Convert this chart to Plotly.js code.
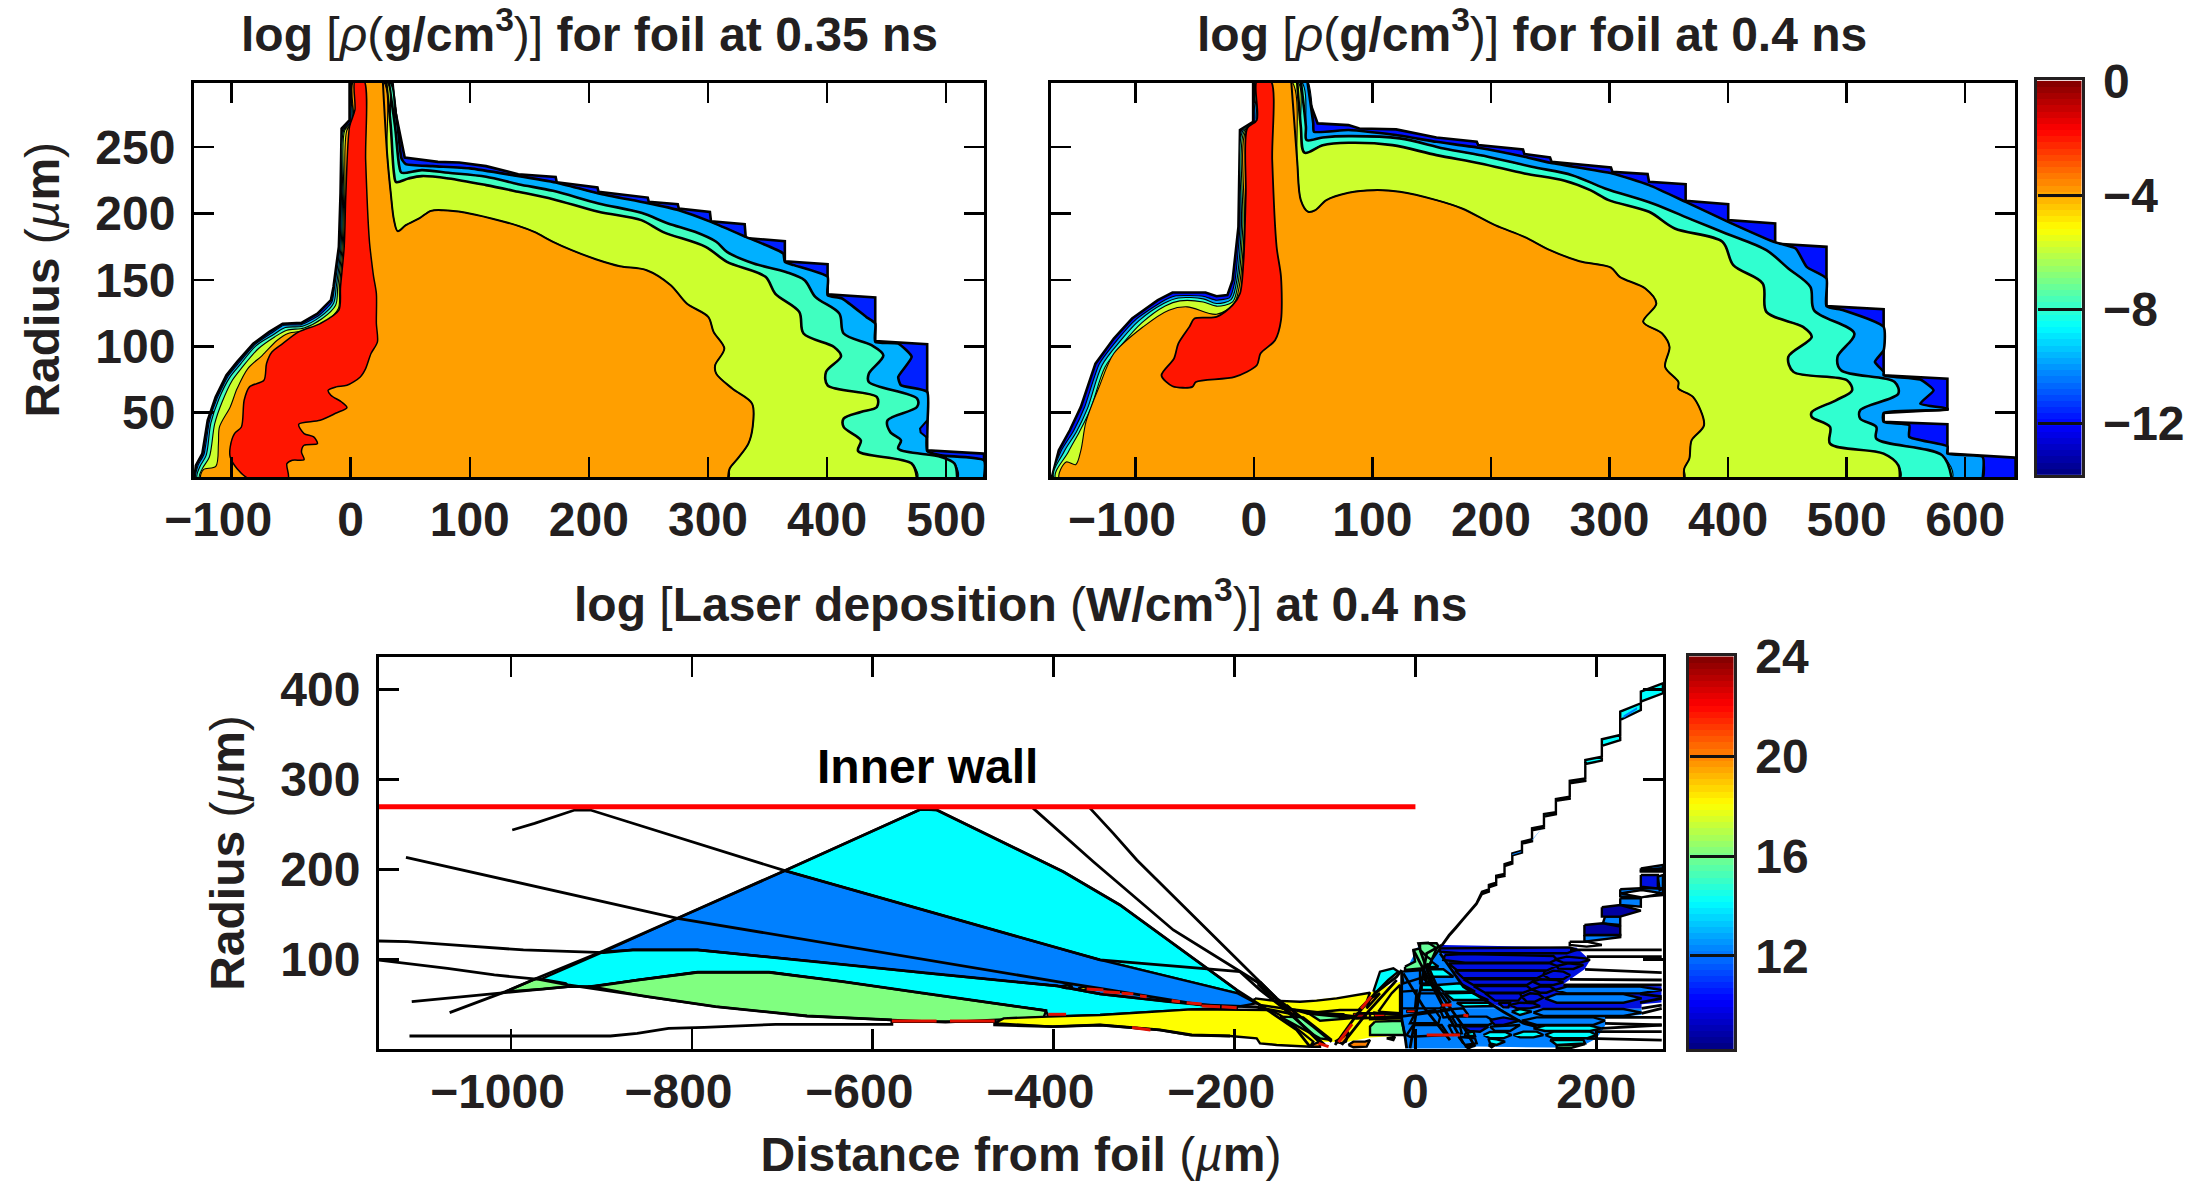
<!DOCTYPE html>
<html><head><meta charset="utf-8">
<script src="https://cdn.plot.ly/plotly-3.0.0.min.js"></script>
<style>html,body{margin:0;padding:0;background:#fff}#g{width:2192px;height:1181px}</style>
</head><body><div id="g"></div>
<script>
// ---------- Tick labels ----------
const foil35XTicks=[-100,0,100,200,300,400,500];
const foil40XTicks=[-100,0,100,200,300,400,500,600];
const foilYTicks=[50,100,150,200,250];
const laserXTicks=[-1000,-800,-600,-400,-200,0,200];
const laserYTicks=[100,200,300,400];
const densityBarTicks=[0,-4,-8,-12];
const laserBarTicks=[12,16,20,24];
const innerWallRadius=269.6;

// ---------- log density at 0.35 ns: contour outlines (um, um) ----------
const d35Blue=[[-131.2,0],[-129.9,10.3],[-124.5,19.1],[-120,44.2],[-113.3,61.8],[-104.3,78.1],[-95.3,88.2],[-81.8,102],[-68.3,110.8],[-57.1,117],[-41.3,117.6],[-27.9,124.6],[-16.6,134.7],[-14.4,144.7],[-9.9,174.9],[-8.5,215],[-7.6,264],[-0.9,270.3],[-0.9,300],[35,300],[37.3,277.9],[41.8,257.8],[45.4,242.2],[73.3,238.9],[91.2,238.4],[113.7,235.7],[140.7,229.6],[172.1,227.6],[173,223.6],[207.2,219.6],[208.1,216.3],[249.4,212],[250.3,208.8],[274.6,207],[275.5,203.8],[301.6,201.2],[302.5,194.2],[330.8,191.9],[331.7,181.6],[364.5,179.1],[364.5,164],[400.4,161.8],[400.4,139.2],[440.4,136.7],[440.4,104],[484,101.5],[484,21.6],[531.7,19.1],[531.7,0]];
const d35Sky=[[-129.9,0],[-128.1,10.3],[-123.1,18.6],[-118.6,43.5],[-111.9,61.3],[-102.9,77.4],[-93.9,87.4],[-80.4,101.3],[-67,109.6],[-56.2,115.8],[-41.3,116.3],[-26.5,123.4],[-15.7,133.4],[-13.5,144.7],[-9,174.9],[-7.6,215.1],[-6.7,262.9],[0,269.1],[0.9,300],[33.7,300],[39.5,265.4],[42.7,241.5],[46.3,237.2],[68.8,235.7],[100.2,234],[136.2,228.9],[172.1,223.4],[208.1,215.1],[248.5,208],[275.5,202.5],[302.5,193.7],[331.7,182.4],[363.1,169.9],[364.5,163.6],[372.1,161.1],[400.4,152.3],[400.4,138.5],[412.5,136],[432.8,122.1],[440.4,117.1],[440.4,103.3],[459.7,102],[471,92],[459.7,76.9],[462,70.6],[484,65.6],[484,21.1],[495.7,17.8],[531.7,14.1],[531.7,0]];
const d35BlueSpot=[[484,44.2],[478,38],[478.5,35],[484,31]];
const d35Aqua=[[-128.5,0],[-126.7,9],[-121.3,17.8],[-117.3,42.2],[-110.6,60.3],[-101.6,76.4],[-92.6,86.4],[-79.5,100.3],[-65.6,108.3],[-54.8,114.1],[-40.4,115.1],[-25.6,122.1],[-14.4,132.2],[-12.1,144.7],[-8.1,174.9],[-6.7,215.1],[-5.8,262.9],[0.9,269.1],[1.8,300],[31.9,300],[37.3,265.4],[40.9,235.2],[42.7,230.7],[59.8,232.7],[82.2,230.7],[113.7,227.7],[140.7,222.1],[169.9,217.1],[208.1,207.6],[244,200.5],[266.5,192.5],[289,186.2],[306.9,178.7],[315.9,171.1],[338.4,162.3],[365.4,156],[381.1,149.8],[390.1,137.2],[410.3,124.6],[413.9,109.6],[437.3,100.8],[447.2,93.2],[435,79.4],[435,73.1],[475.5,60.6],[475.5,54.3],[450.7,44.2],[453,35.4],[462,29.1],[459.7,22.9],[495.7,16.6],[506.9,11.6],[509.2,0]];
const d35Lime=[[-126.7,0],[-124.5,7.8],[-118.6,16.6],[-114.1,41.7],[-107.9,58],[-99.3,74.4],[-90.8,84.4],[-77.3,98.3],[-63.8,107],[-53.5,112.1],[-39.1,113.8],[-23.8,120.9],[-12.6,130.9],[-10.8,144.7],[-7.2,174.9],[-5.8,215.1],[-4.9,262.9],[1.8,269.1],[2.2,300],[29.7,300],[33.7,265.4],[36.4,230.2],[38.2,223.7],[48.5,226.4],[59.8,228.2],[82.2,226.4],[113.7,221.4],[140.7,216.4],[169.9,210.8],[208.1,201.3],[244,195],[262,186.2],[298,174.9],[315.9,163.6],[348.3,152.3],[356.4,139.7],[376.6,125.9],[380.2,109.6],[405.8,99.5],[411.7,92.5],[399.1,80.7],[400.4,70.6],[441.8,61.8],[441.8,54.3],[428.3,50.5],[413.9,45.5],[413.9,39.2],[428.3,29.1],[426,21.1],[471,11.6],[475.5,0]];
const d35Orange=[[-125.4,0],[-123.6,7],[-113.2,9.5],[-111,26.6],[-110.1,39.2],[-101.1,54.3],[-95.3,68.1],[-86.3,83.2],[-74.1,93.2],[-61.6,104.5],[-52.6,109.6],[-36.9,112.1],[-21.1,118.4],[-10.3,128.4],[-9.4,144.7],[-6.3,174.9],[-4.9,215.1],[-3.1,262.9],[2.2,269.1],[2.7,300],[27,300],[30.6,245.3],[33.7,215.1],[36.4,195],[39.5,186.7],[46.3,191.2],[57.5,196.3],[67.4,202],[77.7,202.5],[95.7,200.8],[118.2,196.3],[140.7,190.7],[154.1,186.2],[169.9,178.7],[185.6,172.4],[205.8,165.6],[226,160.3],[248.5,157.3],[268.7,146],[282.2,132.2],[300.2,122.1],[304.7,110.8],[313.7,98.3],[306,85.7],[306.9,79.4],[320.4,68.1],[337,56.8],[337.5,39.2],[333.9,26.6],[324.9,15.3],[318.2,7.8],[316.8,0]];
const d35Red=[[3.6,300],[3.6,278],[-0.9,265.4],[-4,215.1],[-5.4,174.9],[-8.5,144.7],[-9.9,127.2],[-25.6,117.1],[-43.6,110.8],[-57.1,102],[-66.1,95.7],[-70.6,87],[-72.8,74.4],[-84.9,69.4],[-89.4,59.3],[-91.7,39.2],[-97.5,34.2],[-101.1,24.1],[-101.1,16.6],[-95.3,7.8],[-84.9,0],[-52.6,0],[-53.5,11.6],[-49,14.1],[-39.1,14.6],[-41.3,20.3],[-39.1,25.4],[-27.9,26.6],[-31,31.7],[-39.1,34.2],[-43.6,41.2],[-25.6,44.2],[-12.1,49.7],[-3.1,53.8],[-7.6,58],[-16.6,63.1],[-18.9,66.8],[-12.1,69.4],[-3.1,70.6],[8.1,76.9],[12.6,83.2],[17.1,94.5],[22.5,103.3],[21.6,117.1],[21.6,139.7],[19.3,152.3],[17.5,164.8],[15.7,179.9],[12.6,240.2],[11.2,300]];

// ---------- log density at 0.4 ns: contour outlines ----------
const d40Blue=[[-170.7,0],[-164.5,21.6],[-155.2,36.7],[-145.9,54.3],[-133.6,86.9],[-118.1,105.8],[-102.7,120.9],[-81,134.7],[-68.6,140.5],[-40.8,140.5],[-31.5,137.7],[-22.3,138.5],[-17.9,149.8],[-13,190],[-11.7,262.9],[-0.6,269.1],[-0.6,300],[42.7,300],[47.6,283],[53.8,267.9],[79.8,266.6],[89,264.1],[120,263.4],[154,257.3],[188,254],[189.2,251.6],[227,248.3],[228.2,244.8],[249.8,242.3],[251.1,239],[301.2,234.7],[302.4,231.5],[332.1,229.7],[333.3,223.9],[364.2,222.1],[364.2,209.6],[400.1,207],[400.1,195],[439.7,192.5],[439.7,177.4],[483,174.9],[483,130.2],[531.2,127.9],[531.2,78.1],[585,75.6],[585,52.3],[531.2,49.8],[531.2,43],[585,41.2],[585,19.1],[642.5,16.1],[642.5,0]];
const d40Sky=[[-169.4,0],[-162.6,21.1],[-152.1,36.2],[-142.9,53.8],[-130.5,86.4],[-115,105],[-99.6,120.1],[-77.9,133.4],[-65.6,138],[-42.7,137.7],[-31.5,134.7],[-20.4,136.7],[-16.1,148.5],[-11.7,190],[-10.5,262.3],[0.6,269.1],[0.6,300],[45.1,300],[50.1,267.9],[50.7,261.6],[79.8,262.9],[120,259.1],[154,254],[188,249.8],[228.2,242.8],[249.8,238.2],[302.4,230.2],[333.3,221.4],[364.2,208.8],[400.1,193.7],[438.4,178.7],[457,173.6],[466.3,159.8],[483,151],[483,130.2],[497.2,127.2],[531.2,114.6],[531.2,97],[523.8,88.2],[531.2,80.7],[531.2,78.1],[562.1,74.9],[573.3,66.8],[562.1,56.8],[585,53],[585,52.3],[531.2,49.8],[531.2,43],[552.8,40.5],[552.8,31.7],[585,24.6],[585,19.1],[614.7,16.6],[614.7,0]];
const d40Aqua=[[-168.2,0],[-160.2,20.3],[-149.7,35.4],[-140.4,53],[-128,85.7],[-112.6,104],[-97.1,119.1],[-76.1,132.2],[-63.7,136.4],[-42.7,135.7],[-31.5,132.2],[-19.2,135.2],[-14.8,147.3],[-10.5,190],[-9.3,262.3],[1.9,269.1],[1.9,300],[39.6,300],[43.9,265.4],[44.5,255.3],[58.1,257.3],[79.8,258.3],[123.1,256.6],[160.2,249],[197.3,242.8],[234.4,235.2],[268.4,228.9],[296.2,218.9],[336.4,207.6],[370.4,195],[398.2,185],[432.3,172.4],[450.8,158.6],[469.4,144.7],[472.5,127.2],[506.5,109.6],[492.3,92],[495.3,81.9],[540.5,73.1],[543.6,64.3],[511.4,51.8],[511.4,45.5],[525,39.2],[525,30.4],[580.7,17.8],[588.7,0]];
const d40Lime=[[-167,0],[-156.5,20.3],[-147.2,35.4],[-137.9,52.3],[-125.5,84.4],[-110.1,102.5],[-94.6,117.6],[-74.8,130.4],[-62.5,134.2],[-42.7,133.4],[-31.5,130.2],[-17.9,133.4],[-13.6,146],[-9.3,190],[-8,262.3],[3.1,269.1],[3.1,300],[36.5,300],[39.6,265.4],[42.7,245.8],[58.1,251.5],[79.8,253.3],[116.9,251.5],[154,244],[191.1,237.7],[228.2,230.2],[262.2,224.7],[283.8,217.6],[299.3,210.1],[333.3,201.3],[355,188.7],[395.2,178.7],[404.4,161.1],[429.2,147.3],[432.3,125.9],[463.2,114.6],[470.6,107],[450.8,92],[455.1,80.7],[500.3,74.4],[504.6,66.8],[491,59.3],[470.6,50.5],[470.6,46.7],[486,39.2],[486,26.6],[531.2,19.1],[543.6,10.3],[544.8,0]];
const d40Orange=[[-163.9,0],[-158.3,12.8],[-150.3,10.8],[-145.9,21.6],[-141.6,43],[-130.5,69.4],[-118.1,94.5],[-93.4,114.6],[-71.7,127.2],[-56.3,129.7],[-31.5,124.1],[-16.7,132.2],[-12.4,144.7],[-8,190],[-6.8,262.3],[4.3,269.1],[4.3,300],[31.5,300],[36.5,240.2],[39.6,210.1],[45.8,201.3],[51.9,202.5],[61.2,210.1],[79.8,215.6],[101.4,217.6],[123.1,216.4],[154,210.1],[175.6,203.8],[203.5,191.2],[228.2,182.4],[249.8,172.4],[274.6,164.1],[301.2,159.3],[308.6,152.3],[330.2,143.5],[339.5,132.2],[328.4,118.4],[344.4,109.6],[350.6,99.5],[346.9,84.4],[358.1,73.1],[358.1,68.1],[370.4,61.8],[379.7,40.5],[369.2,29.1],[367.3,15.3],[363,7.8],[363,0]];
const d40Red=[[2.5,300],[2.5,270.4],[-5.6,264.1],[-6.8,215.1],[-8.7,164.8],[-11.7,139.7],[-17.9,130.9],[-31.5,122.1],[-50.1,120.9],[-54.4,114.6],[-63.7,102],[-67.4,90.7],[-77.9,78.1],[-68.6,69.9],[-51.9,69.4],[-48.9,73.1],[-16.1,76.9],[2.5,85.7],[5.6,94.5],[17.9,104.5],[22.9,119.6],[22.9,152.3],[19.2,174.9],[15.5,240.2],[14.2,300]];

// ---------- log laser deposition at 0.4 ns: regions (um, um) ----------
const lCyanWedge=[[-697.3,198.5],[-547,266.7],[-529.3,266],[-389.3,197.4],[-326.6,160.4],[-197.6,66],[-196.4,62.2],[-348.7,99.3],[-382.3,108.5]];
const lBlueWedge=[[-897.3,108.5],[-815.8,145.6],[-697.3,198.5],[-382.3,108.5],[-348.7,99.3],[-196.4,62.2],[-176.1,51.1],[-196.4,47.4],[-237,47.4],[-348.7,61.5],[-396.1,70.4],[-539.3,84.4],[-662.7,97.4],[-793.6,110.4],[-865.2,110.4],[-897.3,107.4]];
const lCyanBand=[[-968.9,77],[-897.3,108.5],[-865.2,110.4],[-793.6,110.4],[-662.7,97.4],[-539.3,84.4],[-396.1,70.4],[-348.7,61.5],[-272.6,53],[-196.4,46.5],[-247.2,44.4],[-348.7,38.2],[-405.9,36.3],[-408.4,43],[-544.2,62.2],[-633.1,75.2],[-714.6,85.6],[-793.6,85.6],[-860.3,77],[-909.6,69.6],[-936.8,69.6]];
const lGreens=[
 [[-1005.9,64],[-971.4,78.9],[-939.3,73.3],[-936.8,69.6],[-964,67]],
 [[-914.6,69.6],[-860.3,77],[-793.6,85.6],[-714.6,85.6],[-633.1,75.2],[-544.2,62.2],[-408.4,43],[-410.9,35.6],[-465.2,32.6],[-519.5,30],[-578.8,32.6],[-618.3,34.4],[-672.6,37],[-773.8,47.4],[-850.4,58.5],[-909.6,69.6]]];
const lCoreUnderlay=[[-179,53],[-177,56.6],[-127,53],[-65,60.4],[-46.5,64.1],[-17,75],[-17,15],[-50,13],[-76,8],[-92,8],[-113,8.5],[-150,38],[-160,44]];
const lDenseLeft=[[-16,77],[5,118],[25,115],[60,60],[100,45],[-16,45]];
const lDenseUpper=[[25,115],[30,116],[178,113],[193,99],[187,89],[171,78],[163,72],[272,70],[272,52],[250,50],[250,45],[100,45],[60,60]];
const lDenseLower=[[-16,45],[250,45],[250,38],[210,35],[210,27],[206,20],[200,12],[187,5],[156,2],[68,3],[60,1],[-10,1],[-16,40]];
const lYellows=[
 [[-465.2,28.9],[-455.3,34.4],[-405.9,36.3],[-348.7,38.2],[-247.2,44.4],[-160.8,43.7],[-149.7,38.1],[-112.9,8.5],[-116.6,2.9],[-153.4,4.8],[-171.8,6.6],[-175.5,12.2],[-205,14.8],[-249.7,15.9],[-282.7,21.5],[-348.7,27],[-401,25.2]],
 [[-177.4,56.6],[-157.1,54.1],[-127.6,52.9],[-109.2,54.1],[-87.1,56.6],[-65,60.4],[-50.2,62.9],[-53.9,52.9],[-63.1,43.7],[-83.4,43.7],[-120.2,40],[-133.1,43.7],[-147.9,45.5],[-171.8,49.2],[-179.2,52.9]],
 [[-41,41.8],[-26.3,62.2],[-17,71.5],[-17,40]],
 [[-50.2,40],[-17,38.1],[-17,34.4],[-50.2,33.3]],
 [[80.6,4.8],[88,4.8],[84.3,2.2]],
 [[-372.7,67.8],[-367.1,69.6],[-361.6,67.8],[-367.1,65.9]]];
const lGreenBits=[
 [[-118.4,40],[-79.7,38.9],[-72.3,34.4],[-105.5,31.8]],
 [[-149.7,36.3],[-124,35.5],[-92.6,10.3],[-105.5,12.2]],
 [[-44.7,30.7],[-15.2,31.8],[-11.5,15.9],[-50.2,15.9],[-50.2,25.2]],
 [[-11.5,91.8],[-0.4,97.4],[-2.3,110.4],[5,112.2],[3.2,117.8],[14.2,118.5],[23.5,112.2],[16.1,95.5],[8.7,90],[-11.5,88.1]],
 [[5.1,117.8],[23.5,117.8],[27.2,112.2],[18,99.3],[12.5,103],[5.1,110.4]],
 [[10.6,78.9],[18,78.9],[14.3,73.3]],
 [[8.7,78.9],[16.1,78.9],[14.2,73.3]],
 [[156.2,4.8],[187.5,5.9],[172.7,1.8],[156.2,1.8]],
 [[-393,69.6],[-385.6,71.5],[-379,69.6],[-385.6,67.8]]];
const lOranges=[
 [[-74.2,4.8],[-68.6,8.5],[-55.7,8.5],[-50.2,10.3],[-53.9,2.9],[-68.6,2.2]],
 [[-88.9,8.5],[-79.7,14],[-74.2,19.6],[-76.8,8.5],[-81.5,6.6]],
 [[-114.7,4.8],[-105.5,8.5],[-105.5,2.9],[-114.7,2.9]],
 [[-50.2,56.6],[-39.2,62.2],[-53.9,45.5]],
 [[-171.8,75.2],[-153.4,56.6],[-159,56.6],[-173.6,71.5]],
 [[-142.4,49.2],[-131.3,40],[-136.8,39.2],[-144.2,45.5]],
 [[-31.8,12.2],[-22.6,14],[-24.4,10.3]]];
const lBlueRows=[
 [[-15.2,86.3],[8.7,88.1],[10.6,80.7],[-13.4,73.3]],
 [[-15.2,64.1],[1.4,65.2],[-0.4,45.5],[-15.2,45.5]],
 [[3.2,62.2],[30.9,62.2],[38.3,52.9],[27.2,45.5],[1.4,45.5]],
 [[-0.4,40],[21.7,43.7],[27.2,35.5],[25.4,28.9],[-6,28.9]],
 [[-2.3,27],[29,27],[36.4,15.9],[-6,14],[-9.7,15.9]],
 [[5.1,88.1],[8.8,88.1],[12.5,73.3],[5.1,73.3]],
 [[27.2,43.7],[53,45.5],[58.5,38.1],[30.9,35.5]],
 [[40.1,36.3],[78.8,36.3],[88,30.7],[80.6,27],[45.6,27]],
 [[36.4,27],[49.3,25.2],[51.2,17.7],[42,15.9]],
 [[82.5,25.2],[115.6,27],[104.6,20.3],[88,20.3]],
 [[47.5,14],[65.9,12.2],[67.7,6.6],[54.8,4.8]],
 [[154.3,65.9],[167.2,69.6],[248.3,69.6],[272.3,65.9],[248.3,62.2],[167.2,62.2]],
 [[143.3,56.6],[156.2,61.5],[229.9,61.5],[250.1,56.6],[229.9,51.8],[156.2,51.8]],
 [[130.4,40.7],[141.4,44.8],[229.9,44.8],[250.1,40.7],[229.9,37],[141.4,37]],
 [[117.5,31.8],[134.1,35.5],[196.7,35.5],[209.6,31.8],[196.7,27],[134.1,27]],
 [[209.6,147.4],[226.4,147.4],[226.4,138.2],[207.2,140]],
 [[186.8,127],[226.4,127],[226.4,124.5],[186.8,119.6]],
 [[226.4,177.8],[249.2,178.9],[273.6,178.9],[273.6,171.5],[249.2,169.1],[226.4,169.9]],
 [[226.4,167.8],[249.2,167.8],[249.2,158.5],[226.4,160.4]],
 [[249.2,201.1],[273.6,204.8],[273.6,201],[249.2,199]],
 [[268,191.9],[273.6,193.7],[273.6,178.9],[270,177]]];
const lCyanRows=[
 [[-46.5,64.1],[-39.2,86.3],[-24.4,90],[-18.9,86.3],[-30,77],[-42.8,64.1]],
 [[14.3,91.1],[18,97.4],[25.4,91.8]],
 [[12.5,88.9],[30.9,88.9],[42,80.7],[16.1,80.7]],
 [[6.9,71.5],[21.7,71.5],[23.5,65.9],[6.9,65.9]],
 [[23.5,71.5],[49.3,73.3],[65.9,64.1],[30.9,64.1]],
 [[32.7,62.2],[62.2,62.9],[80.6,54.8],[42,54.8]],
 [[45.6,51.8],[80.6,51.8],[86.2,48.1],[53,47.4]],
 [[130.4,23.3],[143.3,26.3],[193,26.3],[205.9,23.3],[193,20.3],[143.3,20.3]],
 [[143.3,15.9],[152.5,19.6],[193,19.6],[200.4,15.9],[189.4,12.2],[152.5,12.2]],
 [[108.3,15.9],[119.3,19.6],[134.1,19.6],[141.4,15.9],[130.4,13.3],[115.6,13.3]],
 [[75.1,15.9],[82.5,19.2],[99.1,19.2],[106.4,15.9],[97.2,12.2],[82.5,12.2]],
 [[148.8,10.3],[185.7,10.3],[187.5,6.6],[156.2,4.8]],
 [[106.4,41.8],[115.6,44.8],[128.5,41.8],[115.6,38.1]],
 [[54.8,17.7],[64.1,19.6],[65.9,14.8],[54.8,14.8]],
 [[80.6,12.2],[89.8,11.1],[99.1,8.5],[89.8,4.8],[82.5,6.6]],
 [[54.8,3.7],[64.1,3.7],[58.5,1.1]]];
const lDarkRows=[
 [[27.2,112.2],[170.9,113.3],[178.3,110.4],[167.2,106.7],[49.3,106.7],[27.2,108.5]],
 [[32.7,104.8],[53,105.9],[152.5,103.7],[156.2,100],[148.8,96.3],[54.8,96.3],[30.9,99.3]],
 [[154.3,100],[167.2,103],[187.5,101.1],[193,99.3],[182,96.3],[163.5,96.3]],
 [[36.4,95.5],[148.8,95.5],[156.2,92.6],[145.1,87.4],[45.6,88.1]],
 [[156.2,92.6],[169.1,95.5],[185.7,93.7],[174.6,89.3],[158,89.6]],
 [[43.8,87.4],[143.3,87.4],[141.4,82.6],[134.1,78.9],[53,78.9]],
 [[141.4,82.6],[152.5,87.4],[163.5,86.3],[170.9,82.6],[163.5,77.8],[148.8,77.8]],
 [[53,77.8],[132.2,77.8],[129.6,75.2],[123,71.5],[64.1,71.5]],
 [[129.6,75.2],[137.8,77.8],[156.2,77],[163.5,74.4],[152.5,71.5],[137.8,71.5]],
 [[64.1,70.4],[123,70.4],[128.5,66.6],[119.3,62.9],[77,62.9]],
 [[128.5,66.6],[137.8,69.6],[148.8,69.6],[154.3,66.6],[145.1,62.9],[137.8,62.9]],
 [[77,62.2],[115.6,62.2],[117.5,58.5],[113.8,54.1],[88,54.1]],
 [[117.5,58.5],[126.7,62.2],[135.9,61.5],[141.4,57.4],[132.2,52.9],[123,52.9]],
 [[91.7,51.8],[104.6,51.8],[102.7,46.6],[97.2,46.6]],
 [[104.6,49.2],[115.6,51.8],[130.4,51],[137.8,48.1],[126.7,45.5],[112,45.5]],
 [[82.5,32.6],[97.2,35.5],[115.6,31.8],[97.2,27],[88,27]],
 [[51.2,25.2],[65.9,25.9],[80.6,25.2],[71.4,19.6],[60,20.3]],
 [[249.2,193.7],[268,193.7],[268,178.9],[249.2,180.8]]];
const lNavyRows=[
 [[206.1,157.8],[226.4,160.4],[249.2,154.1],[226.4,147.4],[206.1,147.4]],
 [[186.8,138.2],[207.2,140],[226.4,136.3],[226.4,127],[186.8,127]]];
const lWhiteLenses=[
 [[249.2,199],[273.6,201],[273.6,197.4],[249.2,197.4]],
 [[226.4,173.3],[250.2,177],[273.6,173.3],[250.2,168.9]],
 [[170.6,119.6],[189.3,119.6],[206.1,115.9],[189.3,114.1],[170.6,115.9]]];
const lHotBlobs=[[[-46.5,41.8],[-33.7,40],[-33.7,34.4],[-45,35.5]],[[-9.7,43.7],[-0.4,43.7],[-0.4,40.7],[-9.7,40.7]]];
const lDeepBlobs=[[[-68.6,40],[-53.9,40],[-53.9,35.5],[-68.6,35.5]]];
const lLadder=[[29.4,115.9],[37.1,127],[44.7,135.6],[52.3,144.5],[59.9,154.1],[67.5,162.2],[73.6,175.2],[81.2,177.8],[81.2,182.6],[89.3,185.2],[89.3,193],[98.5,194.8],[98.5,205.9],[107.1,208.5],[107.1,217.8],[117.8,220.8],[117.8,230.8],[128.9,233.4],[128.9,245.6],[142.1,248.2],[142.1,261.5],[155.3,263.4],[155.3,278.2],[170.6,280.8],[170.6,298.5],[187.8,301.1],[187.8,321.5],[206.1,325.2],[206.1,344.5],[226.4,349.3],[226.4,375.2],[249.2,384.5],[249.2,397.4],[273.6,406.7],[273.6,395.6],[249.2,386.3],[249.2,377.1],[226.4,366],[226.4,343.7],[206.1,337.1],[206.1,320.8],[187.8,317.1],[187.8,298.2],[170.6,295.6],[170.6,278.5],[155.3,276],[155.3,261.1],[142.1,258.5],[142.1,245.9],[128.9,243.4],[128.9,231.1],[117.8,228.5],[117.8,218.5],[107.1,215.6],[107.1,206.3],[98.5,203.7],[98.5,192.6],[89.3,190.8],[89.3,182.6],[81.2,180],[81.2,175.2],[73.6,172.6],[67.5,161.5],[59.9,153],[52.3,143.7],[44.7,134.5],[37.1,125.9],[29.4,115.2]];
const lLadderBlue=[[[230,371],[245,380],[245,377.5],[230,368]],[[107.1,217],[117,220],[117,219],[107.1,216]],[[128.9,233],[141,247],[141,246],[128.9,232]]];
// ray paths
const lRays=[
 [[-998.5,243.7],[-973.8,251.1],[-929.4,265.9],[-912.1,265.9],[-697.3,198.5],[-382.3,108.5],[-348.7,99.3],[-194,86.3],[-171.8,65.9],[-147.9,47.4],[-100,4.8]],
 [[-1116,213.3],[-815.8,145.6],[-396.1,75.2],[-348.7,67.8],[-237,49.3],[-176,47],[-130,38]],
 [[-1146.7,120.4],[-1114.6,119.6],[-1072.6,116.7],[-986.2,110.4],[-897.3,107.4],[-865.2,110.4],[-793.6,110.4],[-662.7,97.4],[-539.3,84.4],[-396.1,70.4],[-348.7,61.5],[-272.6,53],[-196.4,45.6]],
 [[-1146.7,99.3],[-1070.1,90],[-1018.3,82.6],[-968.9,77.8],[-936.8,71.5],[-850.4,58.5],[-773.8,47.4],[-672.6,37],[-578.8,32.6]],
 [[-1109.6,53],[-1072.6,56.7],[-1005.9,63],[-964,67],[-936.8,69.6],[-909.6,69.6],[-860.3,77],[-793.6,85.6],[-714.6,85.6],[-633.1,75.2],[-544.2,62.2],[-408.4,43]],
 [[-1067.7,40.7],[-1005.9,64.1],[-971.4,78.9],[-897.3,109.6],[-815.8,145.6],[-697.3,198.5],[-547,266.7],[-529.3,266],[-389.3,197.4],[-326.6,160.4],[-197.6,66],[-171.8,49.2],[-131.3,21.5],[-116.6,2.9]],
 [[-1112.1,14.8],[-889.9,14.8],[-860.3,17.8],[-825.7,23.3],[-786.2,24.4],[-707.2,27.8],[-578.8,27.8],[-578.8,30.7],[-465.2,30.7],[-465.2,27],[-401,25.2],[-348.7,27],[-282.7,21.5],[-247.2,15.9],[-205,14.8]],
 [[-359.8,268],[-334,240],[-308,210.4],[-216,119.6],[-174,77],[-153.4,56.6],[-131.3,40],[-112.9,25.2],[-92.6,8.5]],
 [[-422.8,268],[-356,208.5],[-267.7,132.6],[-175.5,75.1],[-153,55],[-105,6.7]],
 [[-88.9,4.8],[-65,38.1],[-44.7,62.2],[-20.7,80.7],[-15.2,88.1]],
 [[-81.5,4.8],[-53.9,40],[-20.7,77]],
 [[-15.2,86.3],[-15.2,34.4],[-11.5,14],[-9.7,1.1]],
 [[-6,1.1],[1.4,45.5],[12.4,106.7],[29.4,115.9]],
 [[-13.4,84.4],[8.7,47.4],[38.2,10.3]],
 [[-2.3,110.4],[27.2,54.8],[38.2,32.6]],
 [[-120.2,40],[-65,34.4],[-17,36.3],[38.2,43.7]],
 [[-147.9,45.5],[-65,36.3]],
 [[-65,40],[-17,40]],
 [[27.2,106.7],[53,69.6],[97.2,41.8],[119.3,28.9],[134.1,25.2]],
 [[12.5,95.5],[27.2,62.2],[53,25.2],[65.9,2.9]],
 [[5.1,110.4],[14.3,84.4],[30.9,47.4],[53,6.6]],
 [[170.9,110.4],[272.3,110.4]],[[189.4,103],[272.3,103]],[[187.5,88.9],[272.3,85.2]],[[170.9,77.8],[272.3,77]],[[163.5,71.5],[272.3,71.5]],
 [[248.3,61.5],[272.3,58.5]],[[248.3,51.8],[272.3,56.6]],[[250.1,45.5],[272.3,49.2]],[[250.1,39.9],[272.3,45.5]],[[209.6,35.5],[272.3,35.5]],[[209.6,28.9],[272.3,27]],[[205.9,23.3],[272.3,27]],[[200.4,19.6],[272.3,19.6]],[[189.4,12.2],[272.3,10.3]]];
const lHotSegments=[
 [[-363.5,67],[-345,65.9]],[[-345,64],[-326.6,62.9]],[[-324.8,62.2],[-311.9,61.5]],[[-304.5,59.2],[-297.1,58.5]],[[-269.5,54],[-260.3,52.9]],[[-252.9,51.8],[-236.3,50.3]],[[-236.3,48.1],[-216,47.4]],[[-214.2,47.4],[-197.6,46.3]],
 [[-313.2,24.1],[-292.9,21.5]],
 [[-578.8,31.5],[-529.4,31.5]],[[-514.6,31.5],[-465.2,31.5]],[[-405.9,38.9],[-386.2,38.9]],
 [[-107,6.6],[-96,2.9]],[[-60,45],[-49.2,58.5]],[[-85,8],[-70,28]],[[12.5,15.9],[49.3,15.9]],[[29,49.2],[40.1,49.2]],[[53,38.1],[58.5,37]]];

// ---------- colour bars ----------
const densityBarLevels=Array.from({length:64},(_,i)=>-13.8+(i+0.5)*13.8/64);
const laserBarLevels=Array.from({length:64},(_,i)=>8.26+(i+0.5)*15.74/64);
const jetScale=[[0,'#00007f'],[0.125,'#0000ff'],[0.375,'#00ffff'],[0.625,'#ffff00'],[0.875,'#ff0000'],[1,'#7f0000']];

const W=2192,H=1181,FONT='"Liberation Sans",Arial,sans-serif';
const BLACK='#000';
function flat(polys){const x=[],y=[];polys.forEach(p=>{p.forEach(q=>{x.push(q[0]);y.push(q[1]);});x.push(p[0][0]);y.push(p[0][1]);x.push(null);y.push(null);});return{x,y};}
function fillT(polys,color,ax,lw,smooth){const f=flat(polys);const line={color:BLACK,width:lw===undefined?2.4:lw};if(smooth){line.shape='spline';line.smoothing=smooth;}return{type:'scatter',mode:'lines',x:f.x,y:f.y,xaxis:'x'+ax,yaxis:'y'+ax,fill:'toself',fillcolor:color,line,hoverinfo:'skip',showlegend:false};}
function lineT(polys,color,w,ax,smooth){const x=[],y=[];polys.forEach(p=>{p.forEach(q=>{x.push(q[0]);y.push(q[1]);});x.push(null);y.push(null);});const line={color,width:w};if(smooth){line.shape='spline';line.smoothing=smooth;}return{type:'scatter',mode:'lines',x,y,xaxis:'x'+ax,yaxis:'y'+ax,line,hoverinfo:'skip',showlegend:false};}
// right-hand part of a contour: everything after it leaves the top of the axes
function rightChain(p){let k=0;p.forEach((q,i)=>{if(q[1]>=300)k=i;});return p.slice(k);}
function contour(p,color,ax,smooth,w){return[fillT([p],color,ax,1.1,smooth),lineT([rightChain(p)],BLACK,w,ax,smooth)];}

const traces=[
 fillT([d35Blue],'#0020ff',1,2.6),...contour(d35Sky,'#00b0ff',1,0.5,2.6),fillT([d35BlueSpot],'#0020ff',1,2),...contour(d35Aqua,'#40ffc0',1,0.9,2.6),...contour(d35Lime,'#ccff2e',1,0.9,2.6),...contour(d35Orange,'#ff9f00',1,0.9,2),fillT([d35Red],'#ff1500',1,1.5,0.8),
 fillT([d40Blue],'#0010ff',2,2.6),...contour(d40Sky,'#009fff',2,0.5,2.6),...contour(d40Aqua,'#30ffd0',2,0.9,2.6),...contour(d40Lime,'#ccff2e',2,0.9,2.6),...contour(d40Orange,'#ff9f00',2,0.9,2),fillT([d40Red],'#ff1500',2,1.8,0.8),
 fillT([lCyanWedge],'#00ffff',3),fillT([lBlueWedge],'#0080ff',3),fillT([lCyanBand],'#00ffff',3),fillT(lGreens,'#80ff80',3),fillT([lCoreUnderlay],'#ffff00',3,0),fillT([lDenseLeft],'#0080ff',3,0),fillT([lDenseUpper],'#0010e0',3,0),fillT([lDenseLower],'#0080ff',3,0),fillT(lYellows,'#ffff00',3),fillT(lBlueRows,'#0080ff',3),fillT(lGreenBits,'#66ff99',3),fillT(lOranges,'#ff8000',3),fillT(lCyanRows,'#00ffff',3),fillT(lDarkRows,'#0010e0',3),fillT(lNavyRows,'#0000a0',3),fillT(lWhiteLenses,'#ffffff',3),fillT(lHotBlobs,'#f01000',3,1),fillT(lDeepBlobs,'#a00000',3,1),fillT([lLadder],'#00ffff',3),fillT(lLadderBlue,'#0080ff',3,0),
 lineT(lRays,BLACK,2.8,3),lineT(lHotSegments,'#e01000',3,3),
 lineT([[[-1150,innerWallRadius],[0,innerWallRadius]]],'#ff0000',5,3),
 {type:'heatmap',x:[0,1],y:densityBarLevels,z:densityBarLevels.map(v=>[v,v]),xaxis:'x4',yaxis:'y4',colorscale:jetScale,zmin:-13.8,zmax:0,showscale:false,hoverinfo:'skip'},
 {type:'heatmap',x:[0,1],y:laserBarLevels,z:laserBarLevels.map(v=>[v,v]),xaxis:'x5',yaxis:'y5',colorscale:jetScale,zmin:8.26,zmax:24,showscale:false,hoverinfo:'skip'}
];

const tf={family:FONT,size:48,color:'#231f20',weight:700};
const labelOf=(v,pad)=>v<0?'−'+Math.abs(v)+pad:String(v);
function base(extra){return Object.assign({showgrid:false,zeroline:false,showline:true,linecolor:BLACK,linewidth:3,mirror:'allticks',ticks:'inside',tickcolor:BLACK,tickwidth:2.5,ticklen:20,tickfont:tf,tickmode:'array',layer:'above traces'},extra);}
const dX=(a,b)=>[a/W,b/W],dY=(t,b)=>[1-b/H,1-t/H];
const thin='<span style="font-weight:400">';
const rhoTitle=t=>'log '+thin+'[</span>'+thin+'<i>ρ</i>(</span>g/cm<sup>3</sup>'+thin+')]</span> for foil at '+t+' ns';
const muUnit='Radius '+thin+'(</span>'+thin+'<i>µ</i></span>m'+thin+')</span>';
const NB2='\u00A0\u00A0';

const layout={width:W,height:H,margin:{l:0,r:0,t:0,b:0},paper_bgcolor:'#fff',plot_bgcolor:'#fff',showlegend:false,
 xaxis:base({domain:dX(194,984),anchor:'y',range:[-131.5,531.7],tickvals:foil35XTicks,ticktext:foil35XTicks.map(v=>labelOf(v,NB2)),ticklabelstandoff:-2}),
 yaxis:base({domain:dY(82.5,477),anchor:'x',range:[1.5,298.7],tickvals:foilYTicks,ticklabelstandoff:6,title:{text:muUnit,font:tf,standoff:21}}),
 xaxis2:base({domain:dX(1051,2015),anchor:'y2',range:[-171.1,642],tickvals:foil40XTicks,ticktext:foil40XTicks.map(v=>labelOf(v,NB2)),ticklabelstandoff:-2}),
 yaxis2:base({domain:dY(82.5,477),anchor:'x2',range:[1.5,298.7],tickvals:foilYTicks,showticklabels:false}),
 xaxis3:base({domain:dX(379,1663),anchor:'y3',range:[-1145.8,273.7],tickvals:laserXTicks,ticktext:laserXTicks.map(v=>labelOf(v,NB2)),ticklabelstandoff:-2,title:{text:'Distance from foil '+thin+'(</span>'+thin+'<i>µ</i></span>m'+thin+')</span>',font:tf,standoff:31}}),
 yaxis3:base({domain:dY(656.7,1049.3),anchor:'x3',range:[0,436.3],tickvals:laserYTicks,ticklabelstandoff:6,title:{text:muUnit,font:tf,standoff:21}}),
 xaxis4:{domain:dX(2037,2081.5),anchor:'y4',range:[0,1],fixedrange:true,showticklabels:false,ticks:'',showgrid:false,zeroline:false,showline:true,mirror:true,linecolor:'#231f20',linewidth:3},
 yaxis4:{domain:dY(80,475),anchor:'x4',side:'right',range:[-13.8,0.03],tickmode:'array',tickvals:densityBarTicks,ticks:'inside',ticklen:44,tickwidth:3,tickcolor:'#111',tickfont:tf,ticklabelstandoff:9,showgrid:false,zeroline:false,showline:true,mirror:true,linecolor:'#231f20',linewidth:3},
 xaxis5:{domain:dX(1689,1733.6),anchor:'y5',range:[0,1],fixedrange:true,showticklabels:false,ticks:'',showgrid:false,zeroline:false,showline:true,mirror:true,linecolor:'#231f20',linewidth:3},
 yaxis5:{domain:dY(656,1049.3),anchor:'x5',side:'right',range:[8.26,24.02],tickmode:'array',tickvals:laserBarTicks,ticks:'inside',ticklen:44,tickwidth:3,tickcolor:'#111',tickfont:tf,ticklabelstandoff:9,showgrid:false,zeroline:false,showline:true,mirror:true,linecolor:'#231f20',linewidth:3},
 annotations:[
  {xref:'paper',yref:'paper',x:589/W,y:1-31/H,text:rhoTitle('0.35'),showarrow:false,font:tf,xanchor:'center',yanchor:'middle'},
  {xref:'paper',yref:'paper',x:1532/W,y:1-31/H,text:rhoTitle('0.4'),showarrow:false,font:tf,xanchor:'center',yanchor:'middle'},
  {xref:'paper',yref:'paper',x:1021/W,y:1-601/H,text:'log '+thin+'[</span>Laser deposition '+thin+'(</span>W/cm<sup>3</sup>'+thin+')]</span> at 0.4 ns',showarrow:false,font:tf,xanchor:'center',yanchor:'middle'},
  {xref:'x3',yref:'y3',x:-538.9,y:314,text:'Inner wall',showarrow:false,font:Object.assign({},tf,{color:'#000'}),xanchor:'center',yanchor:'middle'}
 ]};
Plotly.newPlot('g',traces,layout,{staticPlot:true,displayModeBar:false});
</script></body></html>
